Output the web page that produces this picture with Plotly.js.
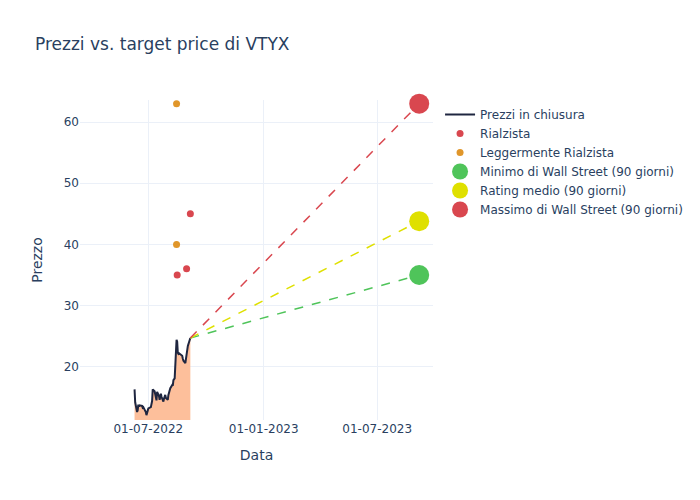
<!DOCTYPE html>
<html>
<head>
<meta charset="utf-8">
<script src="https://cdn.plot.ly/plotly-3.0.1.min.js"></script>
<style>html,body{margin:0;padding:0;background:#fff;}#chart{width:700px;height:500px;}</style>
</head>
<body>
<div id="chart"></div>
<script>
const priceDates = [
  "2022-06-09","2022-06-10","2022-06-13","2022-06-14","2022-06-15","2022-06-16","2022-06-17",
  "2022-06-21","2022-06-22","2022-06-23","2022-06-24","2022-06-27","2022-06-28","2022-06-29","2022-06-30",
  "2022-07-01","2022-07-05","2022-07-06","2022-07-07","2022-07-08","2022-07-11","2022-07-12","2022-07-13",
  "2022-07-14","2022-07-15","2022-07-18","2022-07-19","2022-07-20","2022-07-21","2022-07-22","2022-07-25",
  "2022-07-26","2022-07-27","2022-07-28","2022-07-29","2022-08-01","2022-08-02","2022-08-03","2022-08-04",
  "2022-08-05","2022-08-08","2022-08-09","2022-08-10","2022-08-11","2022-08-12","2022-08-15","2022-08-16",
  "2022-08-17","2022-08-18","2022-08-19","2022-08-22","2022-08-23","2022-08-24","2022-08-25","2022-08-26",
  "2022-08-29","2022-08-30","2022-08-31","2022-09-01","2022-09-02","2022-09-06"
];
const priceValues = [
  16.3,14.2,12.6,12.9,13.8,13.5,13.7,
  13.6,13.3,13.4,13.2,12.6,12.1,12.6,12.9,
  13.2,13.4,13.9,14.4,16.3,16.0,15.5,14.9,
  14.5,15.9,15.2,14.6,15.0,15.6,15.1,14.3,
  14.8,15.1,15.4,14.9,14.6,15.4,15.8,16.1,
  16.5,17.0,16.9,17.8,18.0,18.1,24.4,24.1,
  22.3,22.1,22.2,22.0,21.9,21.8,21.3,21.0,
  20.6,21.2,21.9,22.6,23.4,24.7
];
const bullishDates = ["2022-08-16","2022-08-31","2022-09-06"];
const bullishValues = [35, 36, 45];
const modBullishDates = ["2022-08-15","2022-08-15"];
const modBullishValues = [63, 40];
const targetDate = "2023-09-06";
const lastDate = "2022-09-06";
const lastPrice = 24.7;
const targetLow = 35;
const targetMean = 43.8;
const targetHigh = 63;

const cRed = "#d9474f", cOrange = "#e0962a", cGreen = "#4fc45a", cYellow = "#dfe000";

const traces = [
  {x: priceDates, y: priceValues, type: "scatter", mode: "none", showlegend: false, hoverinfo: "skip",
   fill: "tozeroy", fillcolor: "#fdbf9b"},
  {x: priceDates, y: priceValues, type: "scatter", mode: "lines", name: "Prezzi in chiusura",
   line: {color: "#1f2640", width: 2}},
  {x: bullishDates, y: bullishValues, type: "scatter", mode: "markers", name: "Rialzista",
   marker: {color: cRed, size: 7}},
  {x: modBullishDates, y: modBullishValues, type: "scatter", mode: "markers", name: "Leggermente Rialzista",
   marker: {color: cOrange, size: 7}},
  {x: [lastDate, targetDate], y: [lastPrice, targetLow], type: "scatter", mode: "lines", showlegend: false,
   line: {color: cGreen, width: 1.5, dash: "dash"}},
  {x: [lastDate, targetDate], y: [lastPrice, targetMean], type: "scatter", mode: "lines", showlegend: false,
   line: {color: cYellow, width: 1.5, dash: "dash"}},
  {x: [lastDate, targetDate], y: [lastPrice, targetHigh], type: "scatter", mode: "lines", showlegend: false,
   line: {color: cRed, width: 1.5, dash: "dash"}},
  {x: [targetDate], y: [targetLow], type: "scatter", mode: "markers", name: "Minimo di Wall Street (90 giorni)",
   marker: {color: cGreen, size: 20}, cliponaxis: false},
  {x: [targetDate], y: [targetMean], type: "scatter", mode: "markers", name: "Rating medio (90 giorni)",
   marker: {color: cYellow, size: 20}, cliponaxis: false},
  {x: [targetDate], y: [targetHigh], type: "scatter", mode: "markers", name: "Massimo di Wall Street (90 giorni)",
   marker: {color: cRed, size: 20}, cliponaxis: false}
];

const layout = {
  width: 700, height: 500,
  template: "plotly_white",
  font: {family: "DejaVu Sans, sans-serif", color: "#2a3f5f", size: 12},
  title: {text: "Prezzi vs. target price di VTYX", x: 0.05, font: {size: 17}},
  margin: {l: 80, r: 267, t: 100, b: 80},
  paper_bgcolor: "#ffffff", plot_bgcolor: "#ffffff",
  xaxis: {title: {text: "Data", standoff: 15}, automargin: true, type: "date", range: ["2022-03-14", "2023-09-28"],
          tickformat: "%d-%m-%Y", dtick: "M6", tick0: "2022-01-01",
          gridcolor: "#ebf0f8", zeroline: false, showline: false},
  yaxis: {title: {text: "Prezzo"}, range: [11.3, 63.6], dtick: 10,
          gridcolor: "#ebf0f8", zeroline: false, showline: false},
  legend: {x: 1.02, y: 1, font: {size: 12}},
  showlegend: true
};

Plotly.newPlot("chart", traces, layout, {displayModeBar: false});
</script>
</body>
</html>
